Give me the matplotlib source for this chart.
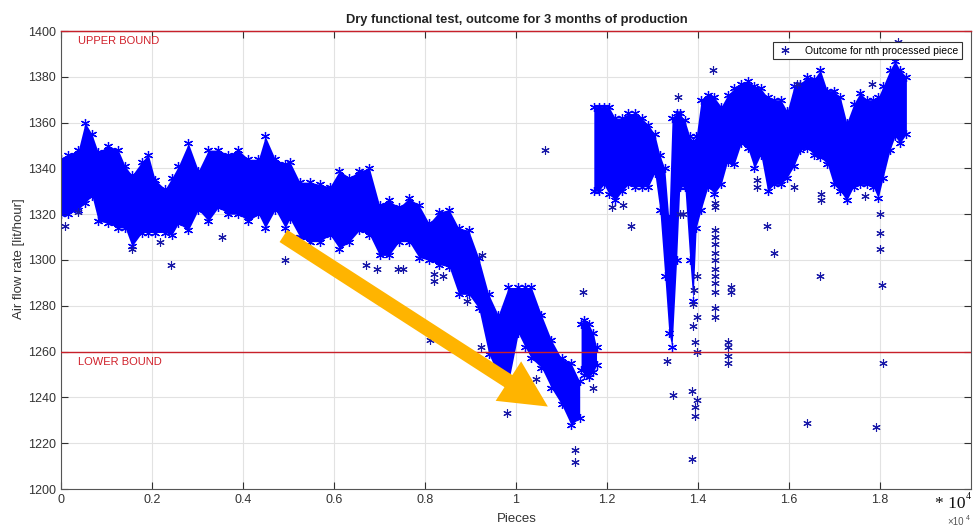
import numpy as np
import matplotlib
matplotlib.use('Agg')
import matplotlib.pyplot as plt
from matplotlib.patches import FancyArrowPatch
from matplotlib.ticker import FormatStrFormatter

plt.rcParams['font.family'] = ['Liberation Sans', 'DejaVu Sans']

seg1_x = [0, 160, 380, 530, 680, 820, 1040, 1260, 1410, 1560, 1780, 1920, 2070, 2290,
          2440, 2580, 2800, 3020, 3240, 3460, 3680, 3900, 4120, 4340, 4490, 4710, 4930,
          5030, 5250, 5470, 5690, 5910, 6120, 6340, 6560, 6780, 7000, 7210, 7430, 7650,
          7870, 8090, 8310, 8530, 8740, 8960, 9180, 9400, 9610, 9830, 10050, 10200,
          10340, 10560, 10780, 11000, 11210, 11400]
seg1_hi = [1344, 1346, 1348, 1360, 1355, 1347, 1350, 1348, 1341, 1337, 1343, 1346, 1335,
           1331, 1336, 1341, 1351, 1339, 1348, 1348, 1346, 1348, 1344, 1344, 1354, 1344,
           1342, 1343, 1334, 1334, 1333, 1332, 1339, 1336, 1339, 1340, 1324, 1326, 1323,
           1327, 1324, 1316, 1321, 1322, 1314, 1313, 1301, 1285, 1276, 1288, 1288, 1288,
           1288, 1276, 1265, 1257, 1255, 1247]
seg1_lo = [1320, 1320, 1322, 1325, 1328, 1317, 1316, 1314, 1314, 1306, 1312, 1312, 1312,
           1312, 1311, 1316, 1313, 1322, 1317, 1323, 1320, 1320, 1317, 1320, 1314, 1322,
           1314, 1318, 1310, 1308, 1308, 1311, 1305, 1308, 1313, 1311, 1302, 1302, 1308,
           1308, 1301, 1300, 1298, 1297, 1285, 1285, 1279, 1259, 1250, 1246, 1268, 1262,
           1257, 1253, 1244, 1237, 1228, 1231]

seg2_x = [11430, 11500, 11600, 11700, 11770]
seg2_hi = [1272, 1274, 1272, 1268, 1262]
seg2_lo = [1252, 1250, 1249, 1251, 1254]

seg3_x = [11710, 11820, 11930, 12040, 12180, 12330, 12470, 12620, 12760, 12910, 13050,
          13160, 13270, 13360, 13430, 13530, 13600, 13710, 13820, 13890, 13960, 14070,
          14220, 14360, 14510, 14650, 14800, 14950, 15090, 15240, 15380, 15530, 15670,
          15820, 15960, 16110, 16250, 16400, 16550, 16690, 16840, 16980, 17130, 17270,
          17420, 17560, 17710, 17850, 17960, 18070, 18220, 18330, 18440, 18580]
seg3_hi = [1367, 1367, 1367, 1367, 1362, 1362, 1364, 1364, 1362, 1359, 1355, 1346, 1340,
           1318, 1362, 1364, 1364, 1361, 1354, 1352, 1354, 1370, 1372, 1371, 1367, 1372,
           1375, 1377, 1378, 1376, 1375, 1371, 1370, 1370, 1365, 1376, 1377, 1380, 1379,
           1383, 1374, 1374, 1371, 1360, 1368, 1373, 1370, 1370, 1371, 1376, 1383, 1387,
           1383, 1380]
seg3_lo = [1330, 1330, 1333, 1329, 1326, 1330, 1333, 1332, 1332, 1332, 1338, 1322, 1293,
           1268, 1262, 1300, 1332, 1332, 1300, 1282, 1314, 1322, 1332, 1329, 1333, 1343,
           1342, 1351, 1349, 1340, 1346, 1330, 1333, 1333, 1336, 1341, 1348, 1349, 1346,
           1345, 1342, 1333, 1330, 1326, 1332, 1333, 1333, 1332, 1327, 1336, 1348, 1354,
           1351, 1355]

# isolated pieces
out_x = [90, 380, 1550, 2180, 2420, 3530, 4920, 6700, 6950, 7410, 7520, 8200, 8200, 8400,
         8110, 8930, 9250, 9220, 9800, 10450, 10640, 11470, 11700, 11300, 11300, 12520,
         12100, 12360, 13310, 13440, 13550, 13600, 13680, 13860, 13870, 13940, 13940,
         13970, 13970, 13940, 13900, 13970, 13880, 13920, 13970, 14340, 14370, 14370,
         14370, 14370, 14370, 14370, 14370, 14370, 14370, 14370, 14370, 14370, 14370,
         14670, 14670, 14670, 14670, 14720, 14720, 15290, 15290, 15520, 15670, 16120,
         16170, 16400, 16680, 16700, 16700, 17680, 17820, 17910, 18000, 18000, 18000,
         18040, 18070, 18400]
out_y = [1315, 1321, 1305, 1308, 1298, 1310, 1300, 1298, 1296, 1296, 1296, 1294, 1291, 1293,
         1265, 1282, 1302, 1262, 1233, 1248, 1348, 1286, 1244, 1217, 1212, 1315,
         1323, 1324, 1256, 1241, 1371, 1320, 1320, 1213, 1243, 1236, 1232,
         1239, 1260, 1264, 1271, 1275, 1281, 1287, 1293, 1383, 1325, 1323,
         1313, 1310, 1307, 1303, 1300, 1296, 1293, 1290, 1286, 1279, 1275,
         1264, 1262, 1258, 1255, 1288, 1286, 1335, 1332, 1315, 1303, 1332,
         1377, 1229, 1293, 1329, 1326, 1328, 1377, 1227, 1320, 1312, 1305,
         1289, 1255, 1395]

upper_bound = 1400
lower_bound = 1260
xticks = [0, 0.2, 0.4, 0.6, 0.8, 1.0, 1.2, 1.4, 1.6, 1.8]
yticks = list(range(1200, 1401, 20))

fig = plt.figure(figsize=(9.75, 5.27), dpi=100)
ax = fig.add_axes([61/975, 38/527, 910/975, 458/527])

star = (6, 2, 0)
blue = '#0000ff'
navy = '#1818a8'

for xs, hi, lo in [(seg1_x, seg1_hi, seg1_lo), (seg2_x, seg2_hi, seg2_lo), (seg3_x, seg3_hi, seg3_lo)]:
    xs = np.array(xs) / 1e4
    ax.fill_between(xs, lo, hi, color=blue, lw=0, zorder=2)
    ax.plot(xs, hi, ls='none', marker=star, ms=6.5, mew=0.9, color=blue, zorder=2)
    ax.plot(xs, lo, ls='none', marker=star, ms=6.5, mew=0.9, color=blue, zorder=2)

ax.plot(np.array(out_x) / 1e4, out_y, ls='none', marker=star, ms=6, mew=0.8, color=navy,
        zorder=3, label='Outcome for nth processed piece')

ax.axhline(upper_bound, color='#c8202a', lw=1.0, zorder=4, clip_on=False)
ax.axhline(lower_bound, color='#c8202a', lw=1.0, zorder=4)
ax.text(0.037, 1395.5, 'UPPER BOUND', color='#d0202a', fontsize=8, va='center')
ax.text(0.037, 1255.5, 'LOWER BOUND', color='#d0202a', fontsize=8, va='center')

ax.set_xlim(0, 2.0)
ax.set_ylim(1200, 1400)
ax.set_xticks(xticks)
ax.set_yticks(yticks)
ax.xaxis.set_major_formatter(FormatStrFormatter('%g'))
ax.grid(True, color='#e2e2e2', lw=0.8, zorder=0)
ax.set_axisbelow(True)
ax.tick_params(direction='in', top=True, right=True, length=5, width=0.8,
               color='#303030', labelcolor='#333333', labelsize=9)
for side in ['left', 'bottom', 'right', 'top']:
    ax.spines[side].set_color('#555555')
    ax.spines[side].set_linewidth(0.8)

# orange arrow
arr = FancyArrowPatch((0.489, 1310.5), (1.07, 1236.0),
                      arrowstyle='simple,head_length=2.6,head_width=2.6,tail_width=0.8',
                      mutation_scale=13, color='#ffb400', lw=0, zorder=5,
                      shrinkA=0, shrinkB=0)
ax.add_patch(arr)

ax.legend(loc='upper right', bbox_to_anchor=(962/975, 1 - 42/527),
          bbox_transform=fig.transFigure, borderaxespad=0, fancybox=False,
          edgecolor='#333333', framealpha=1, fontsize=7.5, handlelength=1.5,
          borderpad=0.35, handletextpad=1.2)
ax.get_legend().get_frame().set_linewidth(0.8)

fig.text(517/975, 1 - 20/527, 'Dry functional test, outcome for 3 months of production',
         ha='center', va='center', fontsize=9.3, fontweight='bold', color='#222222')
fig.text(19/975, 1 - 259/527, 'Air flow rate [lit/hour]', rotation=90,
         ha='center', va='center', fontsize=9.5, color='#333333')
fig.text(517/975, 1 - 519/527, 'Pieces', ha='center', va='center', fontsize=9.5,
         color='#333333')
fig.text(935/975, 1 - 508/527, '* 10', family='Liberation Serif', fontsize=12.5,
         color='#111111', va='baseline')
fig.text(966/975, 1 - 499/527, '4', family='Liberation Serif', fontsize=7,
         color='#111111', va='baseline')
fig.text(947/975, 1 - 525/527, '\u00d710', fontsize=7, color='#555555', va='baseline')
fig.text(966/975, 1 - 520/527, '4', fontsize=5, color='#555555', va='baseline')

fig.savefig('out.png', dpi=100)
